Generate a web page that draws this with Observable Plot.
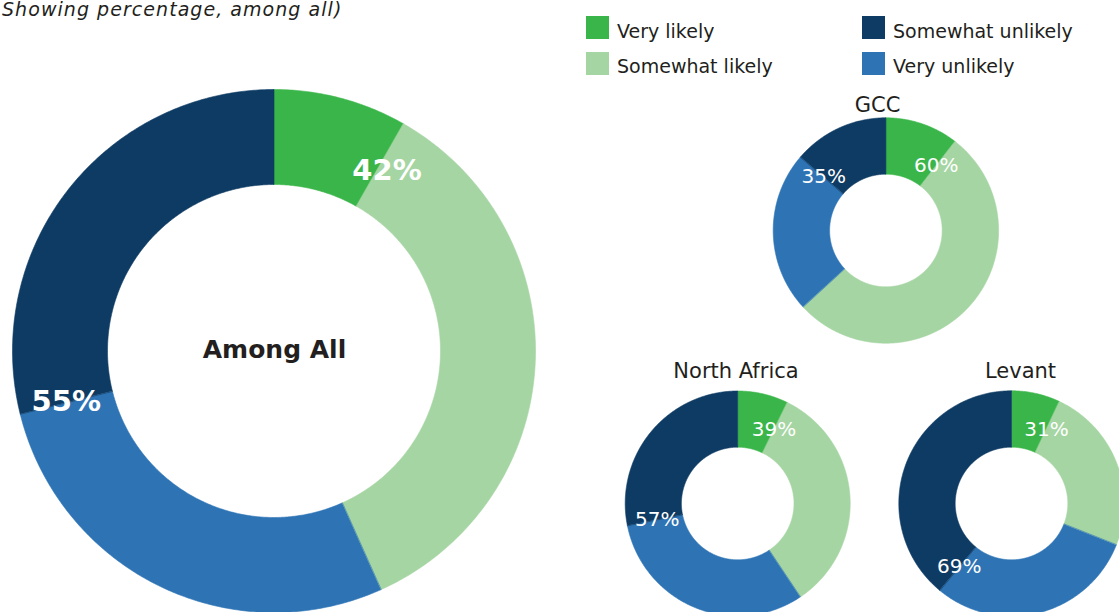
<!DOCTYPE html>
<html>
<head>
<meta charset="utf-8">
<script src="https://cdn.jsdelivr.net/npm/d3@7"></script>
<script src="https://cdn.jsdelivr.net/npm/@observablehq/plot@0.6"></script>
<style>
html, body { margin: 0; padding: 0; background: #fff; overflow: hidden; }
#wrap { position: relative; width: 1119px; height: 612px; }
#chart { position: absolute; left: 0; top: 0; }
#title { position: absolute; left: 2px; top: 0; font-family: "DejaVu Sans"; font-style: italic; font-size: 19px; line-height: 19px; letter-spacing: 1.05px; color: #231f20; white-space: nowrap; z-index: 2; }
#legend { position: absolute; left: 586px; top: 16px; z-index: 2; }
.lg-swatches { font-family: "DejaVu Sans"; font-size: 19px; color: #231f20; column-gap: 0; margin: 0; }
.lg-swatch { padding-bottom: 12.7px; }
.lg-swatch > svg { margin-right: 8px; }
.lg-swatch-label { position: relative; top: 3px; }
</style>
</head>
<body>
<div id="wrap">
  <div id="chart"></div>
  <div id="title"></div>
  <div id="legend"></div>
</div>
<script>
// ---- Data ----
const titleText = "Showing percentage, among all)";
const categories = ["Very likely", "Somewhat likely", "Very unlikely", "Somewhat unlikely"];
const categoryColors = ["#3ab54a", "#a5d5a2", "#2e74b5", "#0e3b63"];
const legendOrder = ["Very likely", "Somewhat likely", "Somewhat unlikely", "Very unlikely"];
const regions = ["Among All", "GCC", "North Africa", "Levant"];
const veryLikely = [8, 10, 7, 7];
const somewhatLikely = [34, 50, 32, 24];
const veryUnlikely = [27, 22, 30, 30];
const somewhatUnlikely = [28, 13, 27, 39];
const likelyTotals = [42, 60, 39, 31];
const unlikelyTotals = [55, 35, 57, 69];

// ---- Layout (pixel units of the drawing) ----
const W = 1119, H = 612;
const layout = [
  {cx: 273.5, cy: 350.5, r0: 166.5, r1: 261.5, lr: 214, tx: 274, ty: 357.3},
  {cx: 885.4, cy: 230,   r0: 56.3,  r1: 112.7, lr: 82,  tx: 877, ty: 111.7},
  {cx: 737.2, cy: 503,   r0: 56.3,  r1: 112.5, lr: 82,  tx: 735.5, ty: 377.3},
  {cx: 1011,  cy: 503,   r0: 56.3,  r1: 112.7, lr: 82,  tx: 1020, ty: 377.3}
];

// ---- Build arc polygons from the values ----
const arcRows = [];
const labelRows = [];
regions.forEach((region, i) => {
  const vals = [veryLikely[i], somewhatLikely[i], veryUnlikely[i], somewhatUnlikely[i]];
  const total = d3.sum(vals);
  const L = layout[i];
  let cum = 0;
  vals.forEach((v, k) => {
    const a0 = 2 * Math.PI * cum / total;
    cum += v;
    const a1 = 2 * Math.PI * cum / total;
    const n = Math.max(2, Math.ceil((a1 - a0) / (Math.PI / 360)));
    const key = region + "|" + categories[k];
    for (let j = 0; j <= n; j++) {
      const a = a0 + (a1 - a0) * j / n;
      arcRows.push({key, category: categories[k], x: L.cx + L.r1 * Math.sin(a), y: L.cy - L.r1 * Math.cos(a)});
    }
    for (let j = n; j >= 0; j--) {
      const a = a0 + (a1 - a0) * j / n;
      arcRows.push({key, category: categories[k], x: L.cx + L.r0 * Math.sin(a), y: L.cy - L.r0 * Math.cos(a)});
    }
  });
  const aLikely = 2 * Math.PI * (vals[0]) / total;
  const aUnlikely = 2 * Math.PI * (vals[0] + vals[1] + vals[2]) / total;
  labelRows.push({main: i === 0, kind: "likely", text: likelyTotals[i] + "%", x: L.cx + L.lr * Math.sin(aLikely), y: L.cy - L.lr * Math.cos(aLikely)});
  labelRows.push({main: i === 0, kind: "unlikely", text: unlikelyTotals[i] + "%", x: L.cx + L.lr * Math.sin(aUnlikely), y: L.cy - L.lr * Math.cos(aUnlikely)});
});

const titleRows = regions.map((r, i) => ({region: r, main: i === 0, x: layout[i].tx, y: layout[i].ty}));

const mainLabel = {x: "x", y: "y", text: "text", lineAnchor: "middle", textAnchor: "middle", fontFamily: "DejaVu Sans", fontWeight: "bold", fontSize: 29, fill: "white"};

const chart = Plot.plot({
  width: W,
  height: H,
  margin: 0,
  x: {domain: [0, W], range: [0, W], axis: null},
  y: {domain: [0, H], range: [0, H], axis: null},
  color: {domain: categories, range: categoryColors},
  style: {background: "transparent"},
  marks: [
    Plot.line(arcRows, {x: "x", y: "y", z: "key", fill: "category", stroke: "category", strokeWidth: 0.6, curve: "linear-closed"}),
    Plot.text(titleRows.filter(d => !d.main), {x: "x", y: "y", text: "region", lineAnchor: "bottom", textAnchor: "middle", fontFamily: "DejaVu Sans", fontSize: 21, fill: "#231f20"}),
    Plot.text(titleRows.filter(d => d.main), {x: "x", y: "y", text: "region", lineAnchor: "bottom", textAnchor: "middle", fontFamily: "DejaVu Sans", fontWeight: "bold", fontSize: 25, fill: "#231f20"}),
    Plot.text(labelRows.filter(d => d.main && d.kind === "likely"), {...mainLabel, dx: 7, dy: 6}),
    Plot.text(labelRows.filter(d => d.main && d.kind === "unlikely"), {...mainLabel, dy: -1}),
    Plot.text(labelRows.filter(d => !d.main), {x: "x", y: "y", text: "text", lineAnchor: "middle", textAnchor: "middle", fontFamily: "DejaVu Sans", fontSize: 20, fill: "white"})
  ]
});
document.getElementById("chart").appendChild(chart);

document.getElementById("title").textContent = titleText;

const legend = Plot.legend({
  color: {type: "categorical", domain: legendOrder, range: legendOrder.map(c => categoryColors[categories.indexOf(c)])},
  columns: 2,
  swatchSize: 23,
  width: 552,
  className: "lg"
});
document.getElementById("legend").appendChild(legend);
</script>
</body>
</html>
